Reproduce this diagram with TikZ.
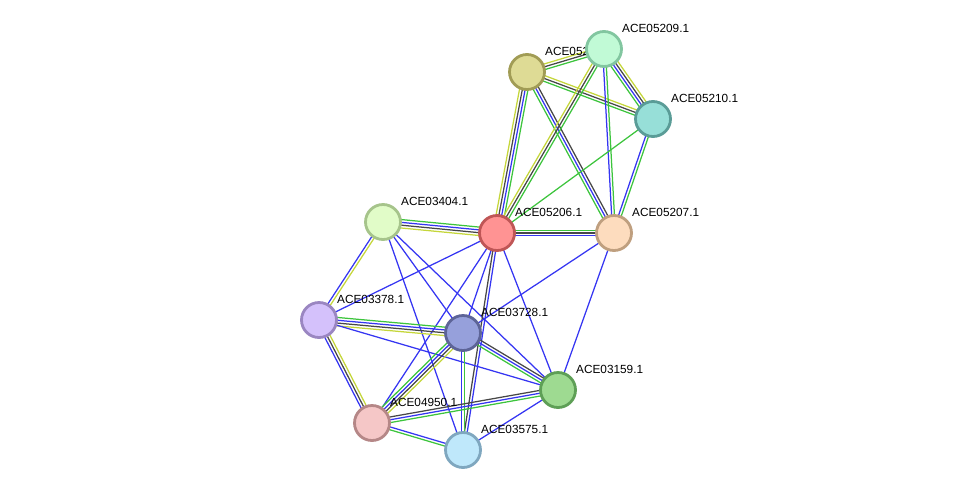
\documentclass[tikz,border=0pt]{standalone}
\usepackage{fontspec}
\setmainfont{Liberation Sans}
\usetikzlibrary{calc}
\pgfdeclarelayer{background}
\pgfsetlayers{background,main}

% evidence channels
\definecolor{linkgreen}{HTML}{3DC43D}
\definecolor{linkblue}{HTML}{3535F2}
\definecolor{linkblack}{HTML}{474747}
\definecolor{linkyellow}{HTML}{C5D63A}
% protein bubbles
\definecolor{f05208}{HTML}{DEDB95}\definecolor{d05208}{HTML}{A19C55}
\definecolor{f05209}{HTML}{C1FAD6}\definecolor{d05209}{HTML}{82C6A0}
\definecolor{f05210}{HTML}{97DFD8}\definecolor{d05210}{HTML}{5A9C97}
\definecolor{f03404}{HTML}{E1FCC8}\definecolor{d03404}{HTML}{A6C48B}
\definecolor{f05206}{HTML}{FF9393}\definecolor{d05206}{HTML}{BF5656}
\definecolor{f05207}{HTML}{FDDCBE}\definecolor{d05207}{HTML}{BF9F7F}
\definecolor{f03378}{HTML}{D4C1FB}\definecolor{d03378}{HTML}{9A86C1}
\definecolor{f03728}{HTML}{96A0DB}\definecolor{d03728}{HTML}{5D6497}
\definecolor{f03159}{HTML}{9EDA91}\definecolor{d03159}{HTML}{5E9F56}
\definecolor{f04950}{HTML}{F5C7C7}\definecolor{d04950}{HTML}{B58787}
\definecolor{f03575}{HTML}{BFE8FB}\definecolor{d03575}{HTML}{7FA7BF}

\tikzset{
  prot/.style={circle, inner sep=0pt, minimum size=35pt, line width=2.8pt},
  lbl/.style={anchor=base west, xshift=18pt, yshift=17pt, inner sep=0pt,
    font=\fontsize{11.8}{14}\selectfont},
  edge/.style={line width=1.25pt},
  nb/.style={edge, draw=linkgreen},
  co/.style={edge, draw=linkblue},
  ce/.style={edge, draw=linkblack},
  tm/.style={edge, draw=linkyellow}
}

% parallel lines between two proteins, one per channel
\newcommand\link[3]{%
  \foreach \ch [count=\i] in {#3}{\xdef\nch{\i}}%
  \foreach \ch [count=\i] in {#3}{%
    \pgfmathsetmacro\off{(\i-(\nch+1)/2)*2.8}%
    \draw[\ch] ($(#1)!\off pt!90:(#2)$) -- ($(#2)!\off pt!-90:(#1)$);
  }}

\begin{document}
\begin{tikzpicture}[x=1pt, y=-1pt]
\useasboundingbox (0,0) rectangle (976,496);

% proteins
\node[prot, fill=f05208, draw=d05208] (p05208) at (527,72) {};
\node[lbl] (l05208) at (p05208.center) {ACE052};
\node[prot, fill=f05209, draw=d05209] (p05209) at (604,49) {};
\node[lbl] (l05209) at (p05209.center) {ACE05209.1};
\node[prot, fill=f05210, draw=d05210] (p05210) at (653,119) {};
\node[lbl] (l05210) at (p05210.center) {ACE05210.1};
\node[prot, fill=f03404, draw=d03404] (p03404) at (383,222) {};
\node[lbl] (l03404) at (p03404.center) {ACE03404.1};
\node[prot, fill=f05206, draw=d05206] (p05206) at (497,233) {};
\node[lbl] (l05206) at (p05206.center) {ACE05206.1};
\node[prot, fill=f05207, draw=d05207] (p05207) at (614,233) {};
\node[lbl] (l05207) at (p05207.center) {ACE05207.1};
\node[prot, fill=f03378, draw=d03378] (p03378) at (319,320) {};
\node[lbl] (l03378) at (p03378.center) {ACE03378.1};
\node[prot, fill=f03728, draw=d03728] (p03728) at (463,333) {};
\node[lbl] (l03728) at (p03728.center) {ACE03728.1};
\node[prot, fill=f03159, draw=d03159] (p03159) at (558,390) {};
\node[lbl] (l03159) at (p03159.center) {ACE03159.1};
\node[prot, fill=f04950, draw=d04950] (p04950) at (372,423) {};
\node[lbl] (l04950) at (p04950.center) {ACE04950.1};
\node[prot, fill=f03575, draw=d03575] (p03575) at (463,450) {};
\node[lbl] (l03575) at (p03575.center) {ACE03575.1};

% interactions
\begin{pgfonlayer}{background}
\link{p05208}{p05209}{nb,ce,tm}
\link{p05208}{p05210}{nb,ce,tm}
\link{p05209}{p05210}{nb,co,ce,tm}
\link{p05208}{p05206}{tm,ce,co,nb}
\link{p05208}{p05207}{nb,co,ce}
\link{p05209}{p05206}{tm,ce,nb}
\link{p05209}{p05207}{co,nb}
\link{p05210}{p05206}{nb}
\link{p05210}{p05207}{co,nb}
\link{p03404}{p05206}{tm,ce,co,nb}
\link{p05206}{p05207}{co,ce,nb}
\link{p03404}{p03378}{co,tm}
\link{p03404}{p03728}{co}
\link{p03404}{p03575}{co}
\link{p03404}{p03159}{co}
\link{p05206}{p03378}{co}
\link{p05206}{p03728}{co}
\link{p05206}{p03575}{ce,co}
\link{p05206}{p04950}{co}
\link{p05206}{p03159}{co}
\link{p05207}{p03728}{co}
\link{p05207}{p03159}{co}
\link{p03378}{p03728}{tm,ce,co,nb}
\link{p03378}{p03159}{co}
\link{p03378}{p04950}{co,ce,tm}
\link{p03728}{p03159}{nb,co,ce}
\link{p03728}{p04950}{nb,co,ce,tm}
\link{p03728}{p03575}{co,nb}
\link{p04950}{p03159}{nb,co,ce}
\link{p03159}{p03575}{co}
\link{p04950}{p03575}{nb,co}
\end{pgfonlayer}
\end{tikzpicture}
\end{document}
